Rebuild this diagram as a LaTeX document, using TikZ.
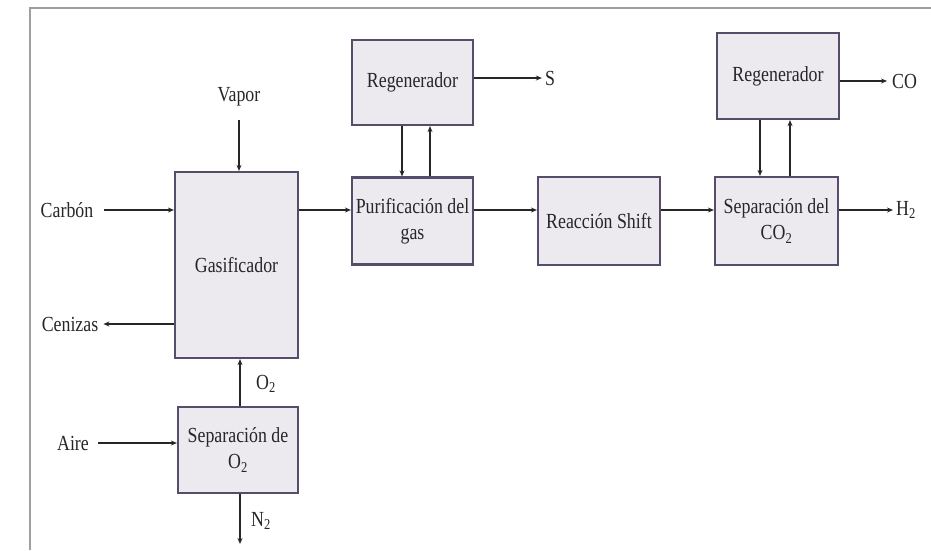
\documentclass[tikz,border=0pt]{standalone}
\usepackage{fontspec}
\setmainfont{Liberation Serif}[FakeStretch=0.83]
\usetikzlibrary{arrows.meta,positioning}

\definecolor{boxfill}{HTML}{ECEAEE}
\definecolor{boxline}{HTML}{554D6A}
\definecolor{inkdark}{HTML}{262626}

\begin{document}
\begin{tikzpicture}[x=1pt,y=-1pt,
  block/.style={draw=boxline, line width=2.2pt, fill=boxfill, align=center, inner sep=0pt,
    font=\fontsize{21.5}{26}\selectfont, text=inkdark},
  lbl/.style={font=\fontsize{21.5}{26}\selectfont, text=inkdark, inner sep=3pt},
  flow/.style={-{Stealth[length=6pt,width=5pt]}, line width=1.8pt, draw=inkdark}]
\useasboundingbox (0,0) rectangle (931,550);
% Frame
\draw[gray!75, line width=2pt] (30,550) -- (30,8) -- (931,8);
% Blocks
\node[block, minimum width=123pt, minimum height=186pt] (gas) at (236.5,265) {Gasificador};
\node[block, minimum width=120pt, minimum height=86pt] (sepo) at (238,450) {Separación de\\O\textsubscript{2}};
\node[block, minimum width=121pt, minimum height=85pt] (regA) at (412.5,82.5) {Regenerador};
\node[block, minimum width=121pt, minimum height=87pt] (puri) at (412.5,221) {Purificación del\\gas};
\node[block, minimum width=122pt, minimum height=88pt] (shift) at (599,221) {Reacción Shift};
\node[block, minimum width=123pt, minimum height=88pt] (sepco) at (776.5,221) {Separación del\\CO\textsubscript{2}};
\node[block, minimum width=122pt, minimum height=86pt] (regB) at (778,76) {Regenerador};
% Streams in and out
\node[lbl] (vapor) at (239,97) {Vapor};
\node[lbl] (carbon) at (67,210) {Carbón};
\node[lbl] (cenizas) at (70,324) {Cenizas};
\node[lbl] (aire) at (73,443) {Aire};
\node[lbl] (otwo) at (266,384) {O\textsubscript{2}};
\node[lbl] (ntwo) at (261,521) {N\textsubscript{2}};
\node[lbl] (azufre) at (550,78) {S};
\node[lbl, anchor=west] (co) at (889,81) {CO};
\node[lbl] (htwo) at (906,210) {H\textsubscript{2}};
\coordinate (row) at (0,210);
\coordinate (nout) at (240,544);
% Gasifier feeds
\draw[flow, shorten <=10pt] (vapor.south) -- (vapor.south |- gas.north);
\draw[flow, shorten <=8pt] (carbon.east) -- (carbon.east -| gas.west);
\draw[flow, shorten >=2pt] (gas.west |- cenizas) -- (cenizas.east);
\draw[flow, shorten <=6pt] (aire.east) -- (aire.east -| sepo.west);
\draw[flow] (sepo.north -| nout) -- (gas.south -| nout);
\draw[flow] (sepo.south -| nout) -- (nout);
% Main line
\draw[flow] (gas.east |- row) -- (puri.west |- row);
\draw[flow] (puri.east |- row) -- (shift.west |- row);
\draw[flow] (shift.east |- row) -- (sepco.west |- row);
\draw[flow] (sepco.east |- row) -- (htwo.west |- row);
% Regenerator loops
\draw[flow] ([xshift=-10.5pt]regA.south) -- ([xshift=-10.5pt]regA.south |- puri.north);
\draw[flow] ([xshift=17.5pt]puri.north) -- ([xshift=17.5pt]puri.north |- regA.south);
\draw[flow] ([xshift=-18pt]regB.south) -- ([xshift=-18pt]regB.south |- sepco.north);
\draw[flow] ([xshift=13.5pt]sepco.north) -- ([xshift=13.5pt]sepco.north |- regB.south);
\draw[flow] (regA.east |- azufre) -- (azufre.west);
\draw[flow] (regB.east |- co) -- ([xshift=-2pt]co.west);
\end{tikzpicture}
\end{document}
